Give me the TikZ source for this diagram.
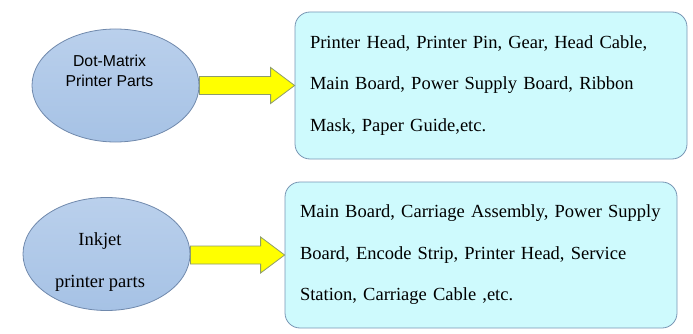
\documentclass[tikz,border=0pt]{standalone}
\usepackage{fontspec}
\setmainfont{Liberation Serif}
\newfontfamily\arialfont{Liberation Sans}
\usepackage{xcolor}
\definecolor{ovaltop}{RGB}{186,208,236}
\definecolor{ovalbottom}{RGB}{166,194,229}
\definecolor{ovalline}{RGB}{112,137,172}
\definecolor{boxcyan}{RGB}{206,250,253}
\definecolor{boxline}{RGB}{120,150,180}
\definecolor{arrowyellow}{RGB}{255,255,0}
\definecolor{arrowline}{RGB}{140,155,110}
\usetikzlibrary{positioning, calc, shapes.geometric}
\frenchspacing

\begin{document}
\begin{tikzpicture}[x=1pt, y=-1pt,
  partsoval/.style={ellipse, draw=ovalline, line width=0.8pt, top color=ovaltop, bottom color=ovalbottom,
    minimum width=167pt, minimum height=113pt, inner sep=0pt},
  partsbox/.style={draw=boxline, line width=0.8pt, fill=boxcyan, rounded corners=15pt,
    text width=362pt, inner xsep=15pt, align=left, minimum height=147pt,
    font=\fontsize{18.5}{41.5}\selectfont},
  partarrow/.style={draw=arrowline, fill=arrowyellow, line width=0.8pt}]
  \useasboundingbox (0,0) rectangle (693,334);

  % Row 1 -- dot-matrix
  \node[partsoval] (e1) at (115.5,85.5) {};
  \node[font=\arialfont\fontsize{15.8}{20}\selectfont, align=center] (t1) at ($(e1.center)+(-6,-14.5)$)
       {Dot-Matrix\\Printer Parts};
  \node[partsbox] (b1) at (491,85.5)
       {Printer Head, Printer Pin, Gear, Head Cable,\\Main Board, Power Supply Board, Ribbon\\Mask, Paper Guide,etc.};
  \draw[partarrow] ($(e1.east |- b1.west)+(0,-9)$) -- ($(b1.west)+(-24,-9)$) -- ($(b1.west)+(-24,-18)$)
       -- (b1.west) -- ($(b1.west)+(-24,18)$) -- ($(b1.west)+(-24,9)$) -- ($(e1.east |- b1.west)+(0,9)$) -- cycle;

  % Row 2 -- inkjet
  \node[partsoval] (e2) at (106.5,254) {};
  \node[font=\fontsize{18.5}{42}\selectfont, align=center] (t2) at ($(e2.center)+(-6.5,8)$)
       {Inkjet\\printer parts};
  \node[partsbox, minimum height=146pt] (b2) at (481,255)
       {Main Board, Carriage Assembly, Power Supply\\Board, Encode Strip, Printer Head, Service\\Station, Carriage Cable ,etc.};
  \draw[partarrow] ($(e2.east |- b2.west)+(0,-9)$) -- ($(b2.west)+(-24,-9)$) -- ($(b2.west)+(-24,-18)$)
       -- (b2.west) -- ($(b2.west)+(-24,18)$) -- ($(b2.west)+(-24,9)$) -- ($(e2.east |- b2.west)+(0,9)$) -- cycle;
\end{tikzpicture}
\end{document}
